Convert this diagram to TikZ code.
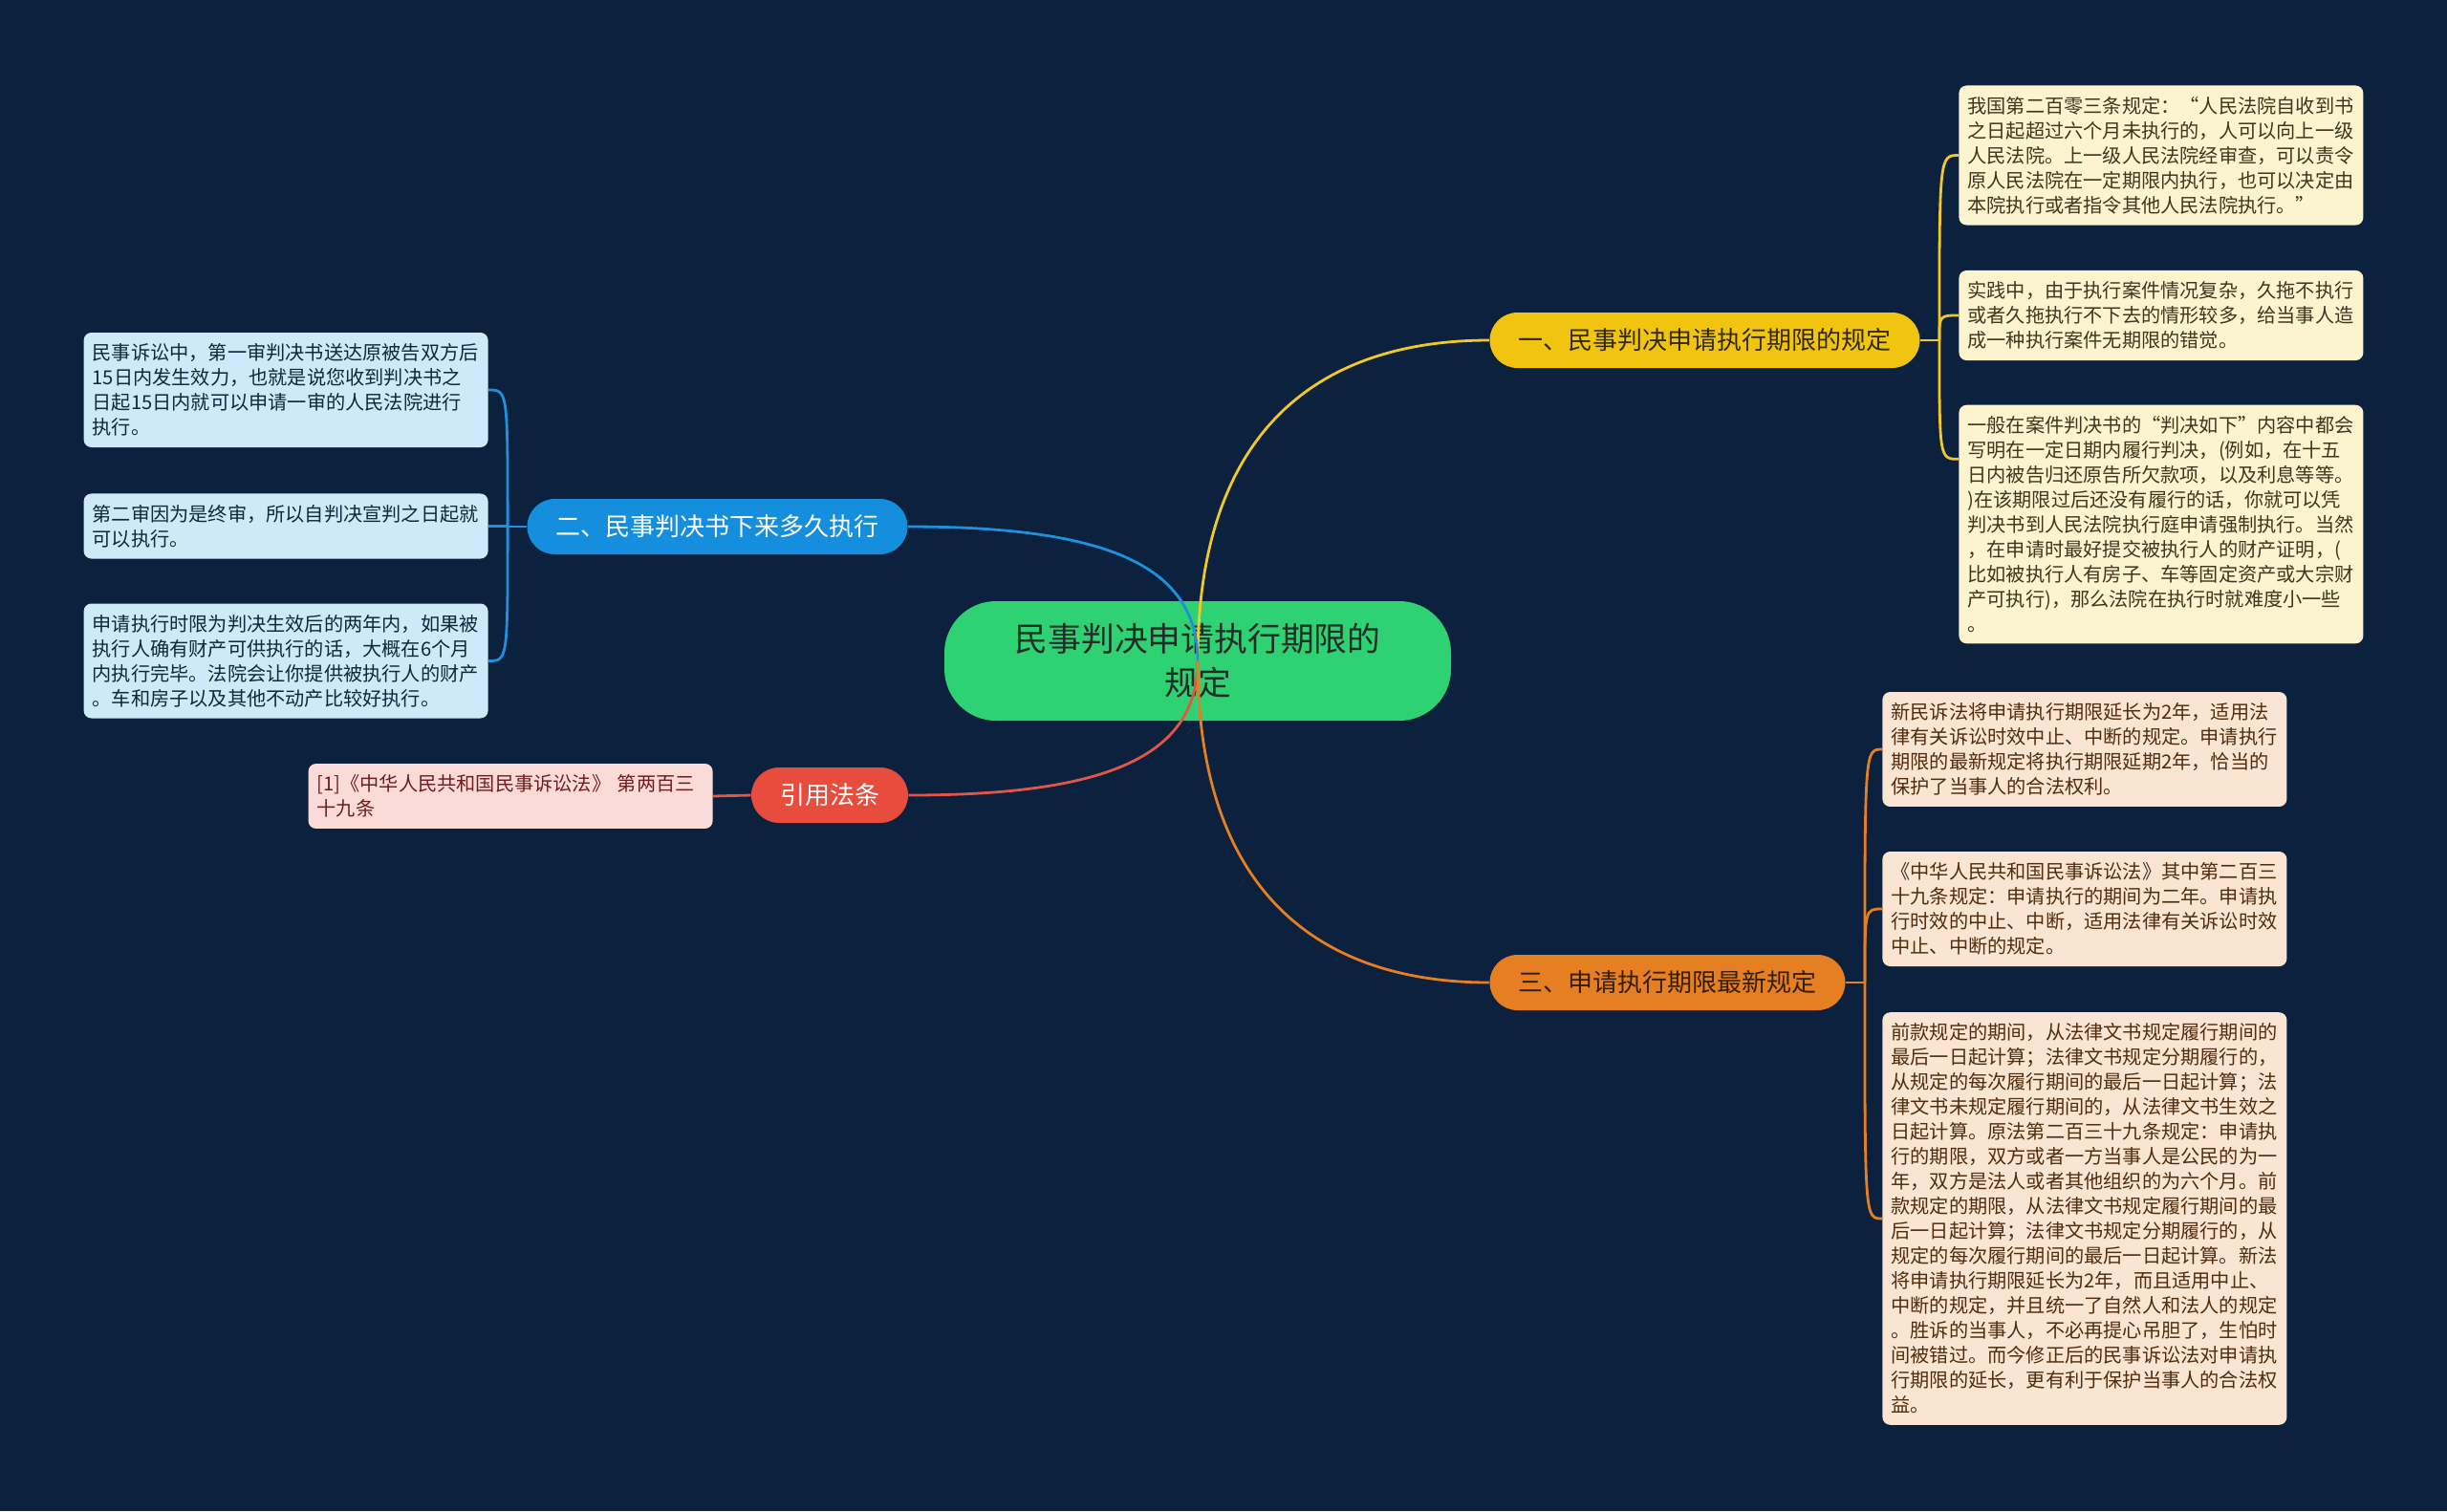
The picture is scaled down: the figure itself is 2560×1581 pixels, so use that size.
\documentclass[tikz,border=0pt]{standalone}
\usepackage{fontspec}
\setmainfont{Noto Sans CJK SC}
\usepackage{xcolor}
\usepackage{tikz}
\usetikzlibrary{calc}

\definecolor{bgnavy}{RGB}{12,33,62}
\definecolor{rootgreen}{RGB}{46,210,115}
\definecolor{roottext}{RGB}{35,45,40}
\definecolor{ylwfill}{RGB}{241,196,15}
\definecolor{ylwline}{RGB}{240,200,40}
\definecolor{ylwtext}{RGB}{50,40,10}
\definecolor{blufill}{RGB}{22,142,222}
\definecolor{bluline}{RGB}{30,144,220}
\definecolor{redfill}{RGB}{231,76,60}
\definecolor{redline}{RGB}{226,86,72}
\definecolor{orgfill}{RGB}{230,126,34}
\definecolor{orgline}{RGB}{230,126,34}
\definecolor{orgtext}{RGB}{50,30,10}
\definecolor{ylwleaf}{RGB}{252,243,207}
\definecolor{ylwleaftext}{RGB}{60,55,30}
\definecolor{bluleaf}{RGB}{206,233,247}
\definecolor{bluleaftext}{RGB}{15,40,60}
\definecolor{redleaf}{RGB}{250,219,216}
\definecolor{redleaftext}{RGB}{110,30,30}
\definecolor{orgleaf}{RGB}{250,229,211}
\definecolor{orgleaftext}{RGB}{80,45,15}

\begin{document}
\begin{tikzpicture}[
  x=0.5pt, y=-0.5pt,
  leafblk/.style={rounded corners=4pt, align=left, text width=202.5pt,
               inner xsep=4.5pt, inner ysep=5.8pt,
               font=\fontsize{10.1pt}{13pt}\selectfont},
  branchblk/.style={rounded corners=14.5pt, minimum height=29pt, inner xsep=15pt,
               font=\fontsize{13pt}{15pt}\selectfont},
  link/.style={line width=1.4pt}
]
\fill[bgnavy] (0,0) rectangle (2560,1581);

% root
\node[fill=rootgreen, text=roottext, rounded corners=27pt, minimum width=265pt,
      minimum height=62.5pt, align=center, font=\fontsize{17.4pt}{23pt}\selectfont]
      (root) at (1253,691.5) {民事判决申请执行期限的\\规定};

% branches
\node[branchblk, fill=ylwfill, text=ylwtext]  (y1) at (1783.5,356) {一、民事判决申请执行期限的规定};
\node[branchblk, fill=blufill, text=white]    (b1) at (750.5,551)  {二、民事判决书下来多久执行};
\node[branchblk, fill=redfill, text=white]    (r1) at (868,832)    {引用法条};
\node[branchblk, fill=orgfill, text=orgtext]  (o1) at (1744.5,1028) {三、申请执行期限最新规定};

% leaves of branch one
\node[leafblk, fill=ylwleaf, text=ylwleaftext, anchor=west] (l1) at (2049,162.5) {我国第二百零三条规定：“人民法院自收到书\\
  之日起超过六个月未执行的，人可以向上一级\\
  人民法院。上一级人民法院经审查，可以责令\\
  原人民法院在一定期限内执行，也可以决定由\\
  本院执行或者指令其他人民法院执行。”};
\node[leafblk, fill=ylwleaf, text=ylwleaftext, anchor=west] (l2) at (2049,330) {实践中，由于执行案件情况复杂，久拖不执行\\
  或者久拖执行不下去的情形较多，给当事人造\\
  成一种执行案件无期限的错觉。};
\node[leafblk, fill=ylwleaf, text=ylwleaftext, anchor=west] (l3) at (2049,548.5) {一般在案件判决书的“判决如下”内容中都会\\
  写明在一定日期内履行判决，(例如，在十五\\
  日内被告归还原告所欠款项，以及利息等等。\\
  )在该期限过后还没有履行的话，你就可以凭\\
  判决书到人民法院执行庭申请强制执行。当然\\
  ，在申请时最好提交被执行人的财产证明，(\\
  比如被执行人有房子、车等固定资产或大宗财\\
  产可执行)，那么法院在执行时就难度小一些\\
  。};

% leaves of branch two
\node[leafblk, fill=bluleaf, text=bluleaftext, anchor=east] (m1) at (511,408) {民事诉讼中，第一审判决书送达原被告双方后\\
  15日内发生效力，也就是说您收到判决书之\\
  日起15日内就可以申请一审的人民法院进行\\
  执行。};
\node[leafblk, fill=bluleaf, text=bluleaftext, anchor=east] (m2) at (511,550.5) {第二审因为是终审，所以自判决宣判之日起就\\
  可以执行。};
\node[leafblk, fill=bluleaf, text=bluleaftext, anchor=east] (m3) at (511,691.5) {申请执行时限为判决生效后的两年内，如果被\\
  执行人确有财产可供执行的话，大概在6个月\\
  内执行完毕。法院会让你提供被执行人的财产\\
  。车和房子以及其他不动产比较好执行。};

% leaf of the cited law
\node[leafblk, fill=redleaf, text=redleaftext, anchor=east] (n1) at (746,833) {[1]《中华人民共和国民事诉讼法》~第两百三\\
  十九条};

% leaves of branch three
\node[leafblk, fill=orgleaf, text=orgleaftext, anchor=west] (p1) at (1969,784) {新民诉法将申请执行期限延长为2年，适用法\\
  律有关诉讼时效中止、中断的规定。申请执行\\
  期限的最新规定将执行期限延期2年，恰当的\\
  保护了当事人的合法权利。};
\node[leafblk, fill=orgleaf, text=orgleaftext, anchor=west] (p2) at (1969,951) {《中华人民共和国民事诉讼法》其中第二百三\\
  十九条规定：申请执行的期间为二年。申请执\\
  行时效的中止、中断，适用法律有关诉讼时效\\
  中止、中断的规定。};
\node[leafblk, fill=orgleaf, text=orgleaftext, anchor=west] (p3) at (1969,1275) {前款规定的期间，从法律文书规定履行期间的\\
  最后一日起计算；法律文书规定分期履行的，\\
  从规定的每次履行期间的最后一日起计算；法\\
  律文书未规定履行期间的，从法律文书生效之\\
  日起计算。原法第二百三十九条规定：申请执\\
  行的期限，双方或者一方当事人是公民的为一\\
  年，双方是法人或者其他组织的为六个月。前\\
  款规定的期限，从法律文书规定履行期间的最\\
  后一日起计算；法律文书规定分期履行的，从\\
  规定的每次履行期间的最后一日起计算。新法\\
  将申请执行期限延长为2年，而且适用中止、\\
  中断的规定，并且统一了自然人和法人的规定\\
  。胜诉的当事人，不必再提心吊胆了，生怕时\\
  间被错过。而今修正后的民事诉讼法对申请执\\
  行期限的延长，更有利于保护当事人的合法权\\
  益。};

% root to branches
\draw[link, ylwline] (root.center) .. controls +(0,-240) and +(-180,0) .. (y1.west);
\draw[link, bluline] (root.center) .. controls +(0,-103) and +(201,0) .. (b1.east);
\draw[link, redline] (root.center) .. controls +(0,103) and +(201,0) .. (r1.east);
\draw[link, orgline] (root.center) .. controls +(0,240) and +(-180,0) .. (o1.west);

% branches to leaves
\coordinate (l3in) at ($(l3.north west)+(0,57)$);
\draw[link, ylwline] (y1.east) -- ++(20,0) coordinate (ystub);
\foreach \leaf in {l1.west,l2.west,l3in}
  \draw[link, ylwline] (ystub) .. controls (ystub |- \leaf) .. (\leaf);
\draw[link, bluline] (b1.west) -- ++(-20,0) coordinate (bstub);
\foreach \leaf in {m1,m2,m3}
  \draw[link, bluline] (bstub) .. controls (bstub |- \leaf.east) .. (\leaf.east);
\draw[link, redline] (r1.west) -- (n1.east);
\draw[link, orgline] (o1.east) -- ++(20,0) coordinate (ostub);
\foreach \leaf in {p1,p2,p3}
  \draw[link, orgline] (ostub) .. controls (ostub |- \leaf.west) .. (\leaf.west);
\end{tikzpicture}
\end{document}
